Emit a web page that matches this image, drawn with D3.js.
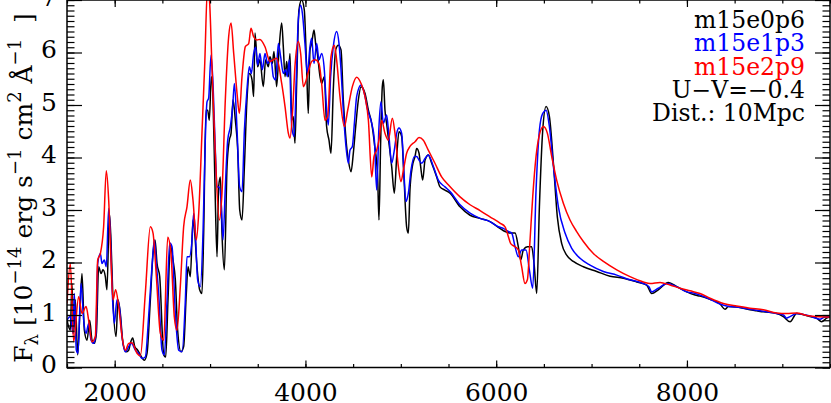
<!DOCTYPE html>
<html>
<head>
<meta charset="utf-8">
<script src="https://cdn.jsdelivr.net/npm/d3@7"></script>
<style>
  body { margin: 0; background: #fff; }
  svg { display: block; }
  text { font-family: "DejaVu Serif", serif; fill: #000; }
</style>
</head>
<body>
<svg id="chart" width="831" height="403"></svg>
<script>
// wavelength (Angstrom), flux (1e-14 erg/s/cm2/A)
var m15e0p6 = [[1500,0.9],[1535,0.71],[1552,1.6],[1570,0.65],[1587,1.29],[1612,0.24],[1633,0.97],[1657,1.79],[1682,0.71],[1710,0.52],[1738,0.9],[1762,0.52],[1787,0.46],[1808,0.65],[1832,1.92],[1857,1.79],[1877,1.86],[1902,1.73],[1919,1.48],[1944,2.94],[1961,2.43],[1982,1.29],[2014,0.59],[2035,1.29],[2059,1.03],[2087,0.46],[2119,0.3],[2147,0.33],[2164,0.46],[2189,0.56],[2210,0.4],[2241,0.33],[2269,0.24],[2311,0.14],[2339,0.27],[2374,1.29],[2402,2.17],[2423,2.43],[2444,1.98],[2472,1.73],[2514,0.24],[2535,0.2],[2559,1.29],[2584,2.33],[2611,2.05],[2636,1.67],[2660,0.71],[2695,0.3],[2723,0.4],[2751,1.41],[2769,1.92],[2793,1.73],[2821,2.81],[2839,2.56],[2863,1.92],[2891,1.48],[2915,1.41],[2933,2.56],[2957,4.9],[2975,4.9],[2992,4.71],[3013,5.54],[3031,5.1],[3052,3.44],[3073,2.11],[3090,3.44],[3108,3.63],[3125,2.56],[3150,1.86],[3178,3.83],[3202,4.33],[3220,4.46],[3241,5.1],[3265,4.71],[3290,4.14],[3311,3.0],[3335,2.81],[3360,3.83],[3387,5.1],[3415,5.6],[3440,5.48],[3457,5.16],
  [3471,6.37],[3499,5.73],[3523,5.86],[3558,5.35],[3583,5.86],[3611,5.73],[3628,5.92],[3653,5.79],[3670,6.02],[3698,5.35],[3723,6.05],[3751,6.56],[3768,6.11],[3786,5.54],[3803,5.83],[3821,5.54],[3838,5.98],[3856,4.71],[3873,4.78],[3890,4.27],[3908,5.41],[3932,6.81],[3960,7.0],[3988,6.81],[4013,5.67],[4030,4.84],[4048,6.05],[4065,6.17],[4090,6.43],[4107,6.17],[4125,5.98],[4153,5.54],[4170,5.41],[4198,5.54],[4222,4.59],[4247,4.33],[4268,4.08],[4292,5.29],[4317,6.05],[4345,6.14],[4373,6.05],[4397,5.1],[4415,4.59],[4432,4.21],[4450,3.95],[4478,3.73],[4502,4.08],[4527,4.59],[4555,5.1],[4583,5.35],[4625,5.22],[4660,4.9],[4695,4.65],[4723,4.27],[4757,3.63],[4771,2.81],[4789,4.33],[4806,5.35],[4817,5.48],[4834,4.9],[4851,4.65],[4876,4.27],[4904,3.83],[4932,3.32],[4957,4.02],[4981,4.49],[5009,4.4],[5033,3.63],[5061,2.68],[5079,2.56],[5096,3.38],[5121,3.83],[5149,4.02],[5166,4.17],[5191,4.08],[5208,3.83],[5229,3.57],[5254,3.95],[5288,4.05],[5324,3.89],[5376,3.63],[5411,3.44],[5463,3.38],[5516,3.32],
  [5621,3.06],[5726,2.9],[5831,2.84],[5935,2.78],[6040,2.65],[6093,2.59],[6145,2.56],[6198,2.56],[6232,2.3],[6257,2.05],[6285,2.24],[6327,2.3],[6372,2.3],[6397,1.98],[6425,1.41],[6453,3.06],[6488,4.52],[6523,4.97],[6558,4.78],[6600,3.89],[6641,2.87],[6687,2.36],[6739,2.14],[6809,2.02],[6914,1.92],[7054,1.83],[7194,1.74],[7334,1.7],[7473,1.63],[7578,1.57],[7630,1.41],[7700,1.48],[7805,1.62],[7893,1.54],[7998,1.44],[8085,1.38],[8137,1.36],
  [8242,1.3],[8347,1.21],[8399,1.11],[8434,1.16],[8521,1.15],[8661,1.1],[8731,1.08],[8801,1.06],[8941,1.03],[9011,0.97],[9081,0.87],[9150,1.03],[9290,0.97],[9360,0.94],[9412,0.87],[9465,0.94],[9500,0.96]];

var m15e1p3 = [[1500,0.9],[1535,0.97],[1563,0.65],[1577,1.41],[1598,0.33],[1615,0.27],[1647,1.6],[1675,0.9],[1700,0.65],[1727,0.84],[1752,0.52],[1780,0.46],[1804,0.65],[1822,1.98],[1850,2.17],[1867,1.98],[1891,2.05],[1912,1.92],[1937,3.03],[1954,2.56],[1975,1.41],[1996,0.84],[2024,1.29],[2049,1.16],[2077,0.59],[2112,0.3],[2147,0.4],[2175,0.46],[2217,0.33],[2251,0.27],[2286,0.17],[2321,0.2],[2356,0.97],[2391,1.92],[2416,2.43],[2437,1.98],[2461,1.41],[2496,0.33],[2521,0.24],[2549,1.29],[2577,2.37],[2601,2.3],[2636,1.03],[2671,0.33],[2706,0.3],[2741,1.29],[2758,2.11],[2783,2.11],[2811,2.43],[2828,2.94],[2846,2.56],[2870,1.67],[2898,1.54],[2926,2.56],[2950,4.33],[2968,5.06],[2985,5.13],[3010,5.95],[3031,5.41],[3055,4.14],[3073,3.44],[3094,3.44],[3115,3.19],[3136,2.43],[3160,3.44],[3185,4.33],[3213,4.59],[3237,4.97],[3255,5.41],[3283,4.52],[3310,3.44],[3335,3.35],[3360,4.52],[3387,5.29],[3412,5.73],[3433,5.6],[3457,5.98],
  [3478,6.1],[3499,5.76],[3523,5.98],[3548,5.67],[3576,5.98],[3604,5.79],[3628,5.86],[3646,5.79],[3663,5.54],[3688,5.48],[3716,6.17],[3740,5.92],[3768,5.6],[3793,5.67],[3810,5.54],[3831,5.86],[3856,4.59],[3880,4.4],[3908,5.73],[3925,6.62],[3950,6.9],[3968,6.75],[3995,6.17],[4020,5.6],[4048,6.11],[4065,6.27],[4090,5.79],[4118,6.17],[4142,5.86],[4170,5.98],[4198,5.67],[4222,4.9],[4240,4.62],[4264,5.54],[4292,6.11],[4327,6.4],[4352,6.17],[4373,5.67],[4397,4.9],[4422,4.27],[4450,3.89],[4467,4.14],[4492,4.21],[4513,4.65],[4537,5.16],[4583,5.38],[4618,5.22],[4653,4.9],[4695,4.65],[4723,4.33],[4747,3.38],[4771,4.59],[4792,5.06],[4817,4.65],[4851,4.81],[4876,4.4],[4904,3.89],[4932,4.14],[4957,4.46],[4981,4.56],[5009,4.46],[5033,3.7],[5054,3.16],[5079,3.32],[5107,3.76],[5142,4.02],[5166,4.02],[5191,3.95],[5219,3.89],[5254,3.98],[5288,4.05],[5341,3.83],[5393,3.57],[5463,3.44],[5516,3.35],
  [5621,3.1],[5726,2.94],[5831,2.84],[5935,2.78],[6023,2.68],[6075,2.65],[6128,2.59],[6163,2.56],[6198,2.3],[6232,2.11],[6267,2.24],[6313,2.24],[6348,1.86],[6383,1.51],[6418,3.38],[6453,4.52],[6488,4.84],[6523,4.9],[6558,4.59],[6600,3.83],[6652,3.06],[6722,2.56],[6792,2.27],[6879,2.08],[6984,1.95],[7124,1.83],[7264,1.76],[7403,1.67],[7543,1.6],[7602,1.54],[7630,1.44],[7700,1.51],[7788,1.6],[7893,1.54],[7998,1.44],[8085,1.41],
  [8242,1.3],[8347,1.21],[8417,1.17],[8521,1.15],[8661,1.11],[8801,1.07],[8941,1.03],[9011,1.0],[9046,0.94],[9081,0.97],[9150,1.03],[9290,0.98],[9395,0.92],[9447,0.96],[9500,0.96]];

var m15e2p9 = [[1500,1.22],[1535,1.98],[1570,0.49],[1622,1.35],[1657,1.03],[1700,1.16],[1727,0.9],[1762,0.49],[1797,0.59],[1822,2.05],[1850,2.17],[1884,2.68],[1912,3.75],[1937,3.19],[1961,2.05],[1982,1.29],[2010,1.48],[2042,1.16],[2077,0.59],[2112,0.33],[2147,0.46],[2182,0.47],[2234,0.27],[2269,0.22],[2321,1.41],[2374,2.68],[2402,2.56],[2437,1.73],[2479,0.65],[2514,0.52],[2556,2.48],[2590,2.17],[2625,0.97],[2653,0.71],[2688,1.54],[2723,2.68],[2758,3.06],[2793,3.57],[2821,3.19],[2856,2.43],[2881,2.94],[2915,4.46],[2943,5.73],[2975,7.3],[2996,6.94],[3020,5.73],[3055,4.08],[3097,2.81],[3125,3.32],[3160,5.1],[3195,6.3],[3220,6.56],[3248,5.98],[3283,5.22],[3307,4.84],[3335,5.54],[3370,6.11],[3405,6.17],[3429,6.46],[3457,6.3],
  [3492,6.24],[3523,6.25],[3576,6.11],[3628,5.83],[3663,5.86],[3698,5.89],[3751,5.41],[3786,4.97],[3821,4.46],[3838,4.37],[3866,4.9],[3890,5.73],[3925,6.21],[3950,5.98],[3978,5.35],[4002,5.44],[4030,5.63],[4065,5.83],[4100,5.86],[4142,5.79],[4170,5.41],[4205,4.71],[4233,4.78],[4268,5.92],[4303,6.14],[4327,5.86],[4362,5.16],[4408,4.59],[4443,4.9],[4492,5.35],[4537,5.53],[4583,5.41],[4625,5.16],[4660,4.71],[4695,3.63],[4719,4.02],[4747,4.14],[4771,4.33],[4799,4.71],[4834,4.46],[4869,4.33],[4911,4.75],[4939,4.46],[4974,3.83],[5002,3.54],[5027,3.76],[5061,4.08],[5096,4.21],[5149,4.3],[5191,4.38],[5236,4.33],[5288,4.14],[5358,3.89],[5428,3.63],[5498,3.48],
  [5621,3.25],[5726,3.1],[5831,2.99],[5935,2.87],[6040,2.75],[6093,2.68],[6128,2.49],[6152,2.36],[6198,2.3],[6232,2.24],[6267,1.92],[6302,1.6],[6327,1.67],[6355,2.43],[6383,3.25],[6418,4.02],[6453,4.43],[6495,4.59],[6537,4.46],[6582,4.02],[6634,3.57],[6704,3.13],[6774,2.81],[6844,2.59],[6914,2.4],[7019,2.17],[7124,2.02],[7264,1.86],[7403,1.73],[7543,1.63],[7613,1.6],[7718,1.62],[7823,1.57],[7928,1.51],[8032,1.46],[8137,1.41],
  [8242,1.32],[8382,1.22],[8521,1.17],[8661,1.13],[8801,1.1],[8941,1.04],[9046,1.03],[9150,1.04],[9255,0.99],[9360,0.97],[9500,0.96]];

var seriesNames = ["m15e0p6", "m15e1p3", "m15e2p9"];
var seriesColors = ["#000000", "#0000ff", "#ff0000"];
var legendExtra = ["U\u2212V=\u22120.4", "Dist.: 10Mpc"];
var xMajor = [2000, 4000, 6000, 8000];
var yMajor = [0, 1, 2, 3, 4, 5, 6, 7];

var svg = d3.select("#chart");
var plotL = 67, plotR = 830, plotT = 0, plotB = 367.5;

var x = d3.scaleLinear().domain([1500, 9500]).range([plotL, plotR]);
var y = d3.scaleLinear().domain([0, 7]).range([plotB, plotT]);

svg.append("clipPath").attr("id", "plotclip")
  .append("rect").attr("x", plotL).attr("y", plotT)
  .attr("width", plotR - plotL).attr("height", plotB - plotT);

// spectra
var line = d3.line()
  .x(function(d) { return x(d[0]); })
  .y(function(d) { return y(d[1]); })
  .curve(d3.curveMonotoneX);

[m15e0p6, m15e1p3, m15e2p9].forEach(function(s, i) {
  svg.append("path")
    .datum(s)
    .attr("clip-path", "url(#plotclip)")
    .attr("fill", "none")
    .attr("stroke", seriesColors[i])
    .attr("stroke-width", 1.5)
    .attr("stroke-linejoin", "round")
    .attr("d", line);
});

// axes (ticks inward, mirrored on top/right)
function noDomain(g) { g.select(".domain").remove(); }
var xMinor = d3.range(1500, 9501, 500);
var yMinor = d3.range(0, 70.5, 1).map(function(v) { return v / 10; });

svg.append("g").attr("transform", "translate(0," + plotB + ")")
  .call(d3.axisBottom(x).tickValues(xMinor).tickSize(-3.5).tickFormat("")).call(noDomain);
svg.append("g").attr("transform", "translate(0," + plotB + ")")
  .call(d3.axisBottom(x).tickValues(xMajor).tickSize(-7).tickPadding(16).tickFormat(d3.format("d")))
  .call(noDomain);
svg.append("g").attr("transform", "translate(0," + plotT + ")")
  .call(d3.axisTop(x).tickValues(xMinor).tickSize(-3.5).tickFormat("")).call(noDomain);
svg.append("g").attr("transform", "translate(0," + plotT + ")")
  .call(d3.axisTop(x).tickValues(xMajor).tickSize(-7).tickFormat("")).call(noDomain);

var yAxisL = svg.append("g").attr("transform", "translate(" + plotL + ",0)");
yAxisL.append("g").call(d3.axisLeft(y).tickValues(yMinor).tickSize(-7.5).tickFormat("")).call(noDomain);
yAxisL.append("g").attr("class", "ylab")
  .call(d3.axisLeft(y).tickValues(yMajor).tickSize(-15).tickPadding(10).tickFormat(d3.format("d")))
  .call(noDomain);
svg.append("g").attr("transform", "translate(" + plotR + ",0)")
  .call(d3.axisRight(y).tickValues(yMinor).tickSize(-7.5).tickFormat("")).call(noDomain);
svg.append("g").attr("transform", "translate(" + plotR + ",0)")
  .call(d3.axisRight(y).tickValues(yMajor).tickSize(-15).tickFormat("")).call(noDomain);

svg.selectAll(".tick line").attr("stroke", "#000").attr("stroke-width", 1.2);
svg.selectAll(".tick text").style("font-family", "DejaVu Serif").style("font-size", "25px");
svg.selectAll(".ylab .tick text").attr("dy", "0.2em");

svg.append("rect")
  .attr("x", plotL).attr("y", plotT)
  .attr("width", plotR - plotL).attr("height", plotB - plotT)
  .attr("fill", "none").attr("stroke", "#000").attr("stroke-width", 1.5);

// y label
var yl = svg.append("text")
  .attr("transform", "translate(32,188) rotate(-90)")
  .attr("text-anchor", "middle")
  .style("font-size", "25px")
  .style("white-space", "pre");
var parts = [
  ["F", 25, 0], ["\u03bb", 18, 6], [" [10", 25, -6], ["\u221214", 18, -11],
  [" erg s", 25, 11], ["\u22121", 18, -11], [" cm", 25, 11], ["2", 18, -11],
  [" \u00c5", 25, 11], ["\u22121", 18, -11], ["  ]", 25, 11]
];
parts.forEach(function(p) {
  yl.append("tspan").text(p[0]).style("font-size", p[1] + "px").attr("dy", p[2]);
});

// legend
var legendRows = seriesNames.map(function(n, i) { return { t: n, c: seriesColors[i] }; })
  .concat(legendExtra.map(function(t) { return { t: t, c: "#000" }; }));
svg.selectAll(".leg").data(legendRows).enter().append("text")
  .attr("class", "leg")
  .attr("x", 805)
  .attr("y", function(d, i) { return 28 + i * 23.3; })
  .attr("text-anchor", "end")
  .style("font-size", "23.5px")
  .style("fill", function(d) { return d.c; })
  .text(function(d) { return d.t; });
</script>
</body>
</html>
